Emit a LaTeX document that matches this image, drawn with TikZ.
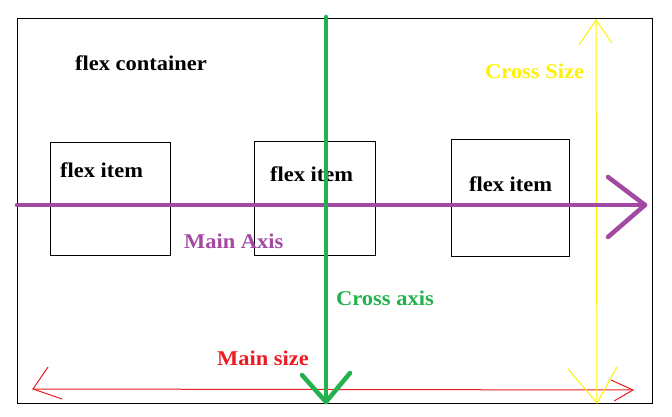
\documentclass[tikz,border=0pt]{standalone}
\usepackage{fontspec}
\setmainfont[FakeStretch=1.07]{Liberation Serif}
\definecolor{paintpurple}{HTML}{A349A4}
\definecolor{paintgreen}{HTML}{22B14C}
\definecolor{paintyellow}{HTML}{FFF200}
\definecolor{paintred}{HTML}{ED1C24}
\tikzset{
  lbl/.style={font=\fontsize{21}{24}\selectfont\bfseries, inner sep=0pt, anchor=base west},
  itembox/.style={draw=black, line width=1pt, inner sep=0pt, anchor=north west},
  thickaxis/.style={line width=4.5pt, line cap=round, line join=round},
  thinaxis/.style={line width=1pt},
}
\begin{document}
\begin{tikzpicture}[x=1pt,y=-1pt]
\useasboundingbox (0,0) rectangle (672,417);
\fill[white] (0,0) rectangle (672,417);
% container
\node[itembox, minimum width=635pt, minimum height=385pt] (cont) at (17,18) {};
\node[lbl] (ctext) at (75,71) {flex container};
% items
\node[itembox, minimum width=120pt, minimum height=113pt] (item1) at (50,142) {};
\node[itembox, minimum width=121pt, minimum height=114pt] (item2) at (254,141) {};
\node[itembox, minimum width=118pt, minimum height=117pt] (item3) at (451,139) {};
\node[lbl] (t1) at (60,177) {flex item};
\node[lbl] (t2) at (270,182) {flex item};
\node[lbl] (t3) at (469,191) {flex item};
% labels
\node[lbl, text=paintyellow] (csize) at (485,79) {Cross Size};
\node[lbl, text=paintpurple] (maxis) at (184,248) {Main Axis};
\node[lbl, text=paintgreen] (caxis) at (336,305) {Cross axis};
\node[lbl, text=paintred] (msize) at (217,365) {Main size};
% red main size
\coordinate (rl) at (33,389);
\coordinate (rr) at (633,390);
\draw[paintred, thinaxis] (rl) -- (rr);
\draw[paintred, thinaxis] (48,367) -- (rl) -- (62,399);
\draw[paintred, thinaxis] (611,380) -- (rr) -- (614,401);
% yellow cross size
\coordinate (yt) at (596,20);
\coordinate (yb) at (597,403);
\draw[paintyellow, thinaxis] (yt) -- (yb);
\draw[paintyellow, thinaxis] (579,45) -- (yt) -- (612,43);
\draw[paintyellow, thinaxis] (568,369) -- (yb) -- (617,367);
% purple main axis
\coordinate (pl) at (17,205);
\coordinate (pr) at (645,205);
\draw[paintpurple, thickaxis] (pl) -- (pr);
\draw[paintpurple, thickaxis] (608,177) -- (pr) -- (608,237);
% green cross axis
\coordinate (gt) at (326,17);
\coordinate (gb) at (326,402);
\draw[paintgreen, thickaxis] (gt) -- (gb);
\draw[paintgreen, thickaxis] (302,375) -- (gb) -- (350,373);
\end{tikzpicture}
\end{document}
